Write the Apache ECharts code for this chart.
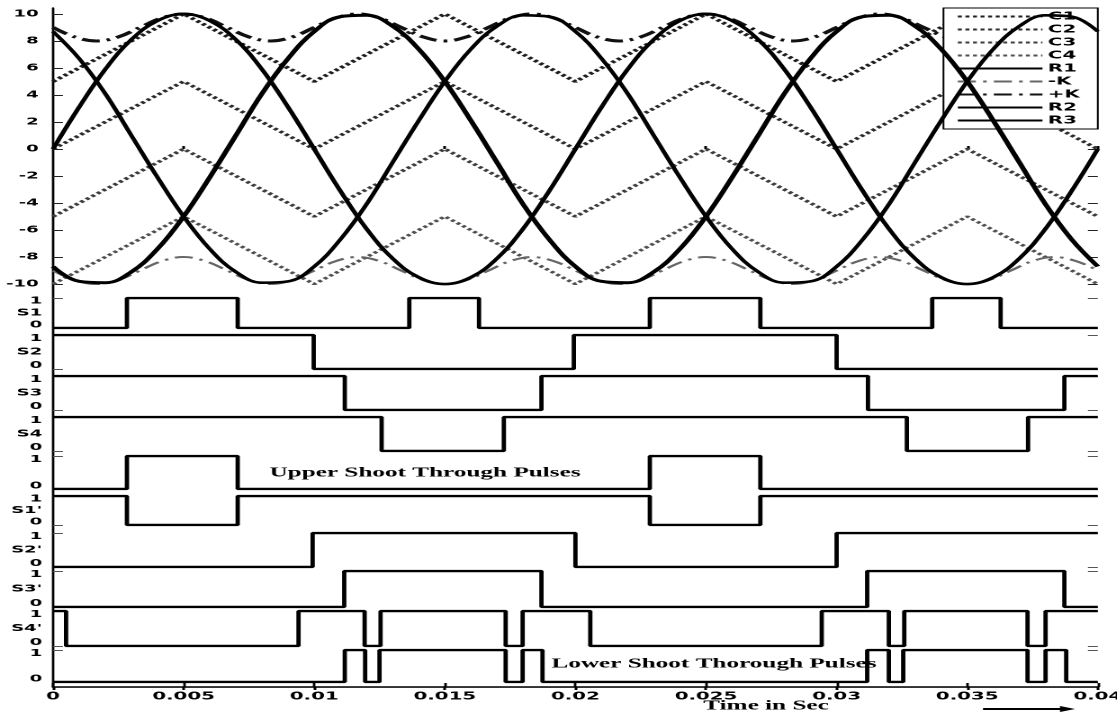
<!DOCTYPE html>
<html>
<head>
<meta charset="utf-8">
<title>Reference, carrier and switching pulse waveforms</title>
<script src="https://cdn.jsdelivr.net/npm/echarts@6.0.0/dist/echarts.min.js"></script>
<style>
  html, body { margin: 0; padding: 0; background: #fff; overflow: hidden; }
  #wrap { width: 1117px; height: 713px; overflow: hidden; position: relative; background: #fff; }
  #chart { position: absolute; left: 0; top: 0; height: 713px; transform-origin: 0 0; }
</style>
</head>
<body>
<div id="wrap"><div id="chart"></div></div>
<script>
// ---------- time axis ----------
const timeTicks = [0, 0.005, 0.01, 0.015, 0.02, 0.025, 0.03, 0.035, 0.04];
const timeTickLabels = ['0', '0.005', '0.01', '0.015', '0.02', '0.025', '0.03', '0.035', '0.04'];
const levelTicks = [-10, -8, -6, -4, -2, 0, 2, 4, 6, 8, 10];

// ---------- three-phase references R1, R2, R3 (1 ms samples) ----------
const refTime = [0, 0.001, 0.002, 0.003, 0.004, 0.005, 0.006, 0.007, 0.008, 0.009,
  0.01, 0.011, 0.012, 0.013, 0.014, 0.015, 0.016, 0.017, 0.018, 0.019,
  0.02, 0.021, 0.022, 0.023, 0.024, 0.025, 0.026, 0.027, 0.028, 0.029,
  0.03, 0.031, 0.032, 0.033, 0.034, 0.035, 0.036, 0.037, 0.038, 0.039, 0.04];
const r1 = [0, 3.1, 5.9, 8.1, 9.5, 10, 9.5, 8.1, 5.9, 3.1,
  0, -3.1, -5.9, -8.1, -9.5, -10, -9.5, -8.1, -5.9, -3.1,
  0, 3.1, 5.9, 8.1, 9.5, 10, 9.5, 8.1, 5.9, 3.1,
  0, -3.1, -5.9, -8.1, -9.5, -10, -9.5, -8.1, -5.9, -3.1, 0];
const r2 = [-8.7, -9.8, -9.9, -9.1, -7.4, -5, -2.1, 1, 4.1, 6.7,
  8.7, 9.8, 9.9, 9.1, 7.4, 5, 2.1, -1, -4.1, -6.7,
  -8.7, -9.8, -9.9, -9.1, -7.4, -5, -2.1, 1, 4.1, 6.7,
  8.7, 9.8, 9.9, 9.1, 7.4, 5, 2.1, -1, -4.1, -6.7, -8.7];
const r3 = [8.7, 6.7, 4.1, 1, -2.1, -5, -7.4, -9.1, -9.9, -9.8,
  -8.7, -6.7, -4.1, -1, 2.1, 5, 7.4, 9.1, 9.9, 9.8,
  8.7, 6.7, 4.1, 1, -2.1, -5, -7.4, -9.1, -9.9, -9.8,
  -8.7, -6.7, -4.1, -1, 2.1, 5, 7.4, 9.1, 9.9, 9.8, 8.7];

// ---------- level-shifted triangular carriers C1..C4 ----------
const carrierTime = [0, 0.005, 0.01, 0.015, 0.02, 0.025, 0.03, 0.035, 0.04];
const c1 = [5, 10, 5, 10, 5, 10, 5, 10, 5];
const c2 = [0, 5, 0, 5, 0, 5, 0, 5, 0];
const c3 = [-5, 0, -5, 0, -5, 0, -5, 0, -5];
const c4 = [-10, -5, -10, -5, -10, -5, -10, -5, -10];

// ---------- shoot-through envelopes +K / -K ----------
const kTime = [0, 0.00083, 0.00167, 0.0025, 0.00333, 0.00417, 0.005, 0.00583,
  0.00667, 0.0075, 0.00833, 0.00917, 0.01, 0.01083, 0.01167, 0.0125,
  0.01333, 0.01417, 0.015, 0.01583, 0.01667, 0.0175, 0.01833, 0.01917,
  0.02, 0.02083, 0.02167, 0.0225, 0.02333, 0.02417, 0.025, 0.02583,
  0.02667, 0.0275, 0.02833, 0.02917, 0.03, 0.03083, 0.03167, 0.0325,
  0.03333, 0.03417, 0.035, 0.03583, 0.03667, 0.0375, 0.03833, 0.03917, 0.04];
const kUpper = [9, 8.3, 8, 8.3, 9, 9.7, 10, 9.7,
  9, 8.3, 8, 8.3, 9, 9.7, 10, 9.7,
  9, 8.3, 8, 8.3, 9, 9.7, 10, 9.7,
  9, 8.3, 8, 8.3, 9, 9.7, 10, 9.7,
  9, 8.3, 8, 8.3, 9, 9.7, 10, 9.7,
  9, 8.3, 8, 8.3, 9, 9.7, 10, 9.7, 9];
const kLower = [-9, -9.7, -10, -9.7, -9, -8.3, -8, -8.3,
  -9, -9.7, -10, -9.7, -9, -8.3, -8, -8.3,
  -9, -9.7, -10, -9.7, -9, -8.3, -8, -8.3,
  -9, -9.7, -10, -9.7, -9, -8.3, -8, -8.3,
  -9, -9.7, -10, -9.7, -9, -8.3, -8, -8.3,
  -9, -9.7, -10, -9.7, -9, -8.3, -8, -8.3, -9];

// ---------- gate pulses: switching instants (s) and the level held from each ----------
const s1Time = [0, 0.00283, 0.00707, 0.01364, 0.01631, 0.02285, 0.02708, 0.03366, 0.03628, 0.04];
const s1Level = [0, 1, 0, 1, 0, 1, 0, 1, 0, 0];
const s2Time = [0, 0.00998, 0.01994, 0.03, 0.04];
const s2Level = [1, 0, 1, 0, 0];
const s3Time = [0, 0.01117, 0.0187, 0.0312, 0.03872, 0.04];
const s3Level = [1, 0, 1, 0, 1, 1];
const s4Time = [0, 0.01258, 0.01726, 0.03269, 0.03733, 0.04];
const s4Level = [1, 0, 1, 0, 1, 1];
const upperStTime = [0, 0.00283, 0.00707, 0.02285, 0.02708, 0.04];
const upperStLevel = [0, 1, 0, 1, 0, 0];
const s1pTime = [0, 0.00283, 0.00707, 0.02285, 0.02708, 0.04];
const s1pLevel = [1, 0, 1, 0, 1, 1];
const s2pTime = [0, 0.00994, 0.02, 0.03, 0.04];
const s2pLevel = [0, 1, 0, 1, 1];
const s3pTime = [0, 0.01115, 0.0187, 0.03117, 0.03872, 0.04];
const s3pLevel = [0, 1, 0, 1, 0, 0];
const s4pTime = [0, 0.0005, 0.0094, 0.01193, 0.01254, 0.01733, 0.01798, 0.02057,
  0.02943, 0.032, 0.03259, 0.03731, 0.038, 0.04];
const s4pLevel = [1, 0, 1, 0, 1, 0, 1, 0, 1, 0, 1, 0, 1, 1];
const lowerStTime = [0, 0.01117, 0.01195, 0.0125, 0.01733, 0.01798, 0.01874,
  0.03117, 0.032, 0.03255, 0.03731, 0.038, 0.03879, 0.04];
const lowerStLevel = [0, 1, 0, 1, 0, 1, 0, 1, 0, 1, 0, 1, 0, 0];

const panelNames = ['S1', 'S2', 'S3', 'S4', '', "S1'", "S2'", "S3'", "S4'", ''];
const panelTimes = [s1Time, s2Time, s3Time, s4Time, upperStTime, s1pTime, s2pTime, s3pTime, s4pTime, lowerStTime];
const panelLevels = [s1Level, s2Level, s3Level, s4Level, upperStLevel, s1pLevel, s2pLevel, s3pLevel, s4pLevel, lowerStLevel];

// ---------- layout ----------
// The figure is laid out narrow and widened by CSS, which gives the broad
// lettering and the heavy vertical pulse edges of the printed figure.
const STRETCH = 1.8;
const FULL_W = 1117, FULL_H = 713;
const lx = x => x / STRETCH;               // page px -> chart px (horizontal)
const chartDom = document.getElementById('chart');
chartDom.style.width = (FULL_W / STRETCH) + 'px';
chartDom.style.transform = 'scaleX(' + STRETCH + ')';

const plotLeft = lx(53);
const plotRight = lx(FULL_W - 1097);
const panelTop = [298, 335, 376, 417, 456, 496, 533, 571, 611, 650];
const panelBottom = [328, 369, 410, 451, 489, 525, 567, 607, 646, 682];

const labelFont = { fontFamily: 'DejaVu Sans', fontWeight: 'bold', color: '#000' };
const none = { show: false };

const grids = [
  { left: plotLeft, right: plotRight, top: 8, bottom: FULL_H - 687 },   // frame + time axis
  { left: plotLeft, right: plotRight, top: 8, height: 282 }              // waveform panel
];
panelTop.forEach((t, i) => grids.push({ left: plotLeft, right: plotRight, top: t, height: panelBottom[i] - t }));
grids.forEach(g => { g.containLabel = false; g.outerBoundsMode = 'none'; });

const xAxes = [
  { gridIndex: 0, type: 'value', min: 0, max: 0.04, position: 'bottom',
    axisLine: { show: true, lineStyle: { color: '#000', width: 1.6 } },
    axisTick: { show: true, inside: true, length: 4, customValues: timeTicks, lineStyle: { color: '#000', width: 1.4 } },
    axisLabel: Object.assign({ show: true, customValues: timeTicks, fontSize: 11, margin: 4,
      formatter: v => timeTickLabels[timeTicks.findIndex(t => Math.abs(t - v) < 1e-9)] }, labelFont),
    splitLine: none },
  { gridIndex: 0, type: 'value', min: 0, max: 0.04, position: 'top',
    axisLine: { show: true, lineStyle: { color: '#333', width: 1 } },
    axisTick: { show: true, inside: true, length: 3, customValues: timeTicks, lineStyle: { color: '#000', width: 1.5 } },
    axisLabel: none, splitLine: none },
  { gridIndex: 1, type: 'value', min: 0, max: 0.04, position: 'bottom',
    axisLine: none,
    axisTick: { show: true, inside: true, length: 3, customValues: timeTicks, lineStyle: { color: '#000', width: 1.5 } },
    axisLabel: none, splitLine: none }
];
const yAxes = [
  { gridIndex: 0, type: 'value', min: 0, max: 1, position: 'left',
    axisLine: { show: true, lineStyle: { color: '#000', width: 1.2 } }, axisTick: none, axisLabel: none, splitLine: none },
  { gridIndex: 0, type: 'value', min: 0, max: 1, position: 'right',
    axisLine: { show: true, lineStyle: { color: '#000', width: 1.2 } }, axisTick: none, axisLabel: none, splitLine: none },
  { gridIndex: 1, type: 'value', min: -10.44, max: 10.44, position: 'left',
    axisLine: none,
    axisTick: { show: true, inside: true, length: 5.5, customValues: levelTicks, lineStyle: { color: '#222', width: 1 } },
    axisLabel: Object.assign({ show: true, customValues: levelTicks, fontSize: 10, margin: 8 }, labelFont),
    splitLine: none },
  { gridIndex: 1, type: 'value', min: -10.44, max: 10.44, position: 'right',
    axisLine: none,
    axisTick: { show: true, inside: true, length: 5.5, customValues: levelTicks, lineStyle: { color: '#222', width: 1 } },
    axisLabel: none, splitLine: none }
];
panelNames.forEach((name, i) => {
  const g = i + 2;
  xAxes.push({ gridIndex: g, type: 'value', min: 0, max: 0.04, show: false });
  yAxes.push({ gridIndex: g, type: 'value', min: 0, max: 1, position: 'left',
    axisLine: none,
    axisTick: { show: true, inside: true, length: 5.5, customValues: [0, 1], lineStyle: { color: '#555', width: 1 } },
    axisLabel: Object.assign({ show: true, customValues: [0.1, 0.5, 0.9], fontSize: 10, margin: 6,
      formatter: v => (v < 0.3 ? '0' : v > 0.7 ? '1' : name) }, labelFont),
    splitLine: none });
  yAxes.push({ gridIndex: g, type: 'value', min: 0, max: 1, position: 'right',
    axisLine: none,
    axisTick: { show: true, inside: true, length: 5.5, customValues: [0, 1], lineStyle: { color: '#555', width: 1 } },
    axisLabel: none, splitLine: none });
});

const pairs = (xs, ys) => xs.map((x, i) => [x, ys[i]]);
const wave = (name, xs, ys, lineStyle, extra) => Object.assign({
  name, type: 'line', xAxisIndex: 2, yAxisIndex: 2, data: pairs(xs, ys),
  symbol: 'none', lineStyle, itemStyle: { color: lineStyle.color, opacity: 0 },
  silent: true, animation: false
}, extra || {});

const dashDot = [10, 4, 2, 4];
const hatch = [2.2, 2];
const series = [
  wave('C1', carrierTime, c1, { color: '#1e1e1e', width: 3, type: hatch }, { z: 2 }),
  wave('C2', carrierTime, c2, { color: '#2c2c2c', width: 2.8, type: hatch }, { z: 2 }),
  wave('C3', carrierTime, c3, { color: '#3c3c3c', width: 2.8, type: hatch }, { z: 2 }),
  wave('C4', carrierTime, c4, { color: '#505050', width: 2.6, type: hatch }, { z: 2 }),
  wave('R1', refTime, r1, { color: '#000', width: 2.7 }, { smooth: 0.4, z: 4 }),
  wave('-K', kTime, kLower, { color: '#666', width: 2, type: dashDot }, { smooth: 0.4, z: 3 }),
  wave('+K', kTime, kUpper, { color: '#111', width: 3, type: dashDot }, { smooth: 0.4, z: 3 }),
  wave('R2', refTime, r2, { color: '#000', width: 3 }, { smooth: 0.4, z: 4 }),
  wave('R3', refTime, r3, { color: '#000', width: 2.6 }, { smooth: 0.4, z: 4 })
];
panelTimes.forEach((ts, i) => {
  series.push({
    name: 'pulse' + i, type: 'line', step: 'end', xAxisIndex: i + 3, yAxisIndex: 4 + 2 * i,
    data: pairs(ts, panelLevels[i]), symbol: 'none', silent: true, animation: false,
    lineStyle: { color: '#000', width: 2.4 }, z: 3
  });
});

const serifTitle = { fill: '#000', font: 'bold 14px "Liberation Serif", "Times New Roman", serif',
  textAlign: 'center', textVerticalAlign: 'middle', align: 'center', verticalAlign: 'middle' };
const graphic = [
  { type: 'text', x: lx(425), y: 473, z: 10, style: Object.assign({ text: 'Upper Shoot Through Pulses' }, serifTitle) },
  { type: 'text', x: lx(714), y: 664, z: 10, style: Object.assign({ text: 'Lower Shoot Thorough Pulses' }, serifTitle) },
  { type: 'text', x: lx(766), y: 706, z: 10, style: Object.assign({ text: 'Time in Sec' }, serifTitle) },
  { type: 'line', z: 10, shape: { x1: lx(983), y1: 709, x2: lx(1066), y2: 709 }, style: { stroke: '#000', lineWidth: 2 } },
  { type: 'polygon', z: 10, shape: { points: [[lx(1060), 706], [lx(1075), 709], [lx(1060), 712]] }, style: { fill: '#000' } }
];

const chart = echarts.init(chartDom, null, { renderer: 'canvas', devicePixelRatio: 2 });
chart.setOption({
  animation: false,
  backgroundColor: '#fff',
  grid: grids,
  xAxis: xAxes,
  yAxis: yAxes,
  legend: {
    orient: 'vertical', right: plotRight, top: 8,
    data: ['C1', 'C2', 'C3', 'C4', 'R1', '-K', '+K', 'R2', 'R3'],
    itemWidth: 47, itemHeight: 8, itemGap: 2,
    padding: [3, 10, 3, 7],
    backgroundColor: '#fff', borderColor: '#000', borderWidth: 1, borderRadius: 0,
    selectedMode: false,
    itemStyle: { opacity: 0 },
    textStyle: Object.assign({ fontSize: 11, padding: [0, 0, 0, -2] }, labelFont)
  },
  tooltip: { show: false },
  series,
  graphic
});
</script>
</body>
</html>
